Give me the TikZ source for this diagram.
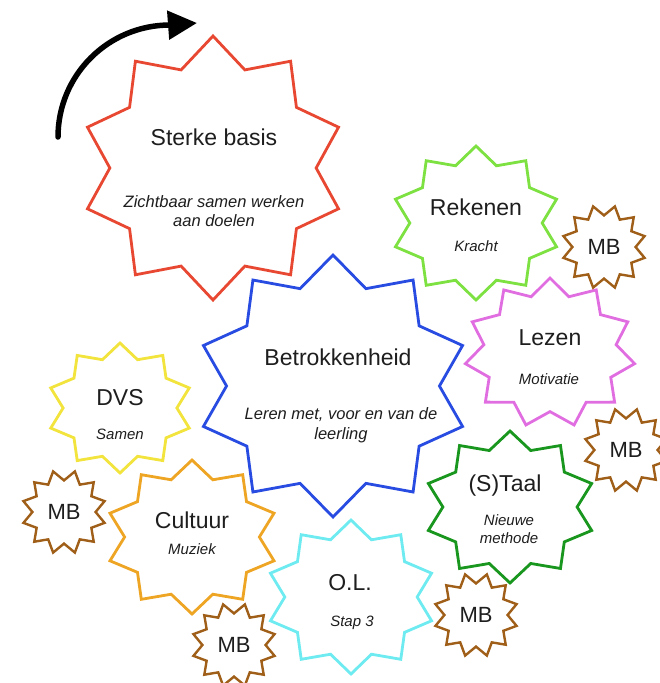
\documentclass[tikz,border=0pt]{standalone}
\usepackage{fontspec}
\setmainfont{Liberation Sans}
\usetikzlibrary{shapes.geometric,arrows.meta}
\definecolor{cred}{RGB}{232,72,50}
\definecolor{cblue}{RGB}{40,75,225}
\definecolor{clgreen}{RGB}{125,225,65}
\definecolor{cmag}{RGB}{225,110,225}
\definecolor{cyel}{RGB}{242,228,60}
\definecolor{corange}{RGB}{238,165,35}
\definecolor{cdgreen}{RGB}{25,150,30}
\definecolor{ccyan}{RGB}{110,235,240}
\definecolor{cbrown}{RGB}{160,95,25}
\definecolor{txt}{RGB}{30,30,30}
\tikzset{
  gear/.style={star, star points=10, star point ratio=1.28, draw, fill=white,
    line width=2.8pt, inner sep=0pt, line join=miter},
  mbgear/.style={star, star points=12, star point ratio=1.33, shape border rotate=15,
    draw=cbrown, fill=white, line width=2.4pt, inner sep=0pt, minimum size=84pt},
  title/.style={text=txt, font=\fontsize{23}{27}\selectfont},
  mbtext/.style={text=txt, font=\fontsize{22}{26}\selectfont},
  sub/.style={text=txt, align=center, font=\itshape\fontsize{15}{18}\selectfont},
  bigsub/.style={text=txt, align=center, font=\itshape\fontsize{16.5}{19.5}\selectfont}
}
\begin{document}
\begin{tikzpicture}[x=1pt,y=-1pt]
\useasboundingbox (0,0) rectangle (659,683);

% arrow
\coordinate (a0) at (58,137);
\coordinate (tip) at (197,23);
\draw[line width=5.5pt, line cap=round, -{Triangle[length=29pt,width=28pt]}]
  (a0) arc[start angle=180, end angle=270, radius=112] -- (tip);

% big stars
\begin{scope}[shift={(213,168)}]
  \node[gear, draw=cred, minimum size=264pt] (red) at (0,0) {};
\end{scope}
\begin{scope}[shift={(333,386)}]
  \node[gear, draw=cblue, minimum size=262pt, xscale=1.04] (blue) at (0,0) {};
\end{scope}
\begin{scope}[shift={(476,223)}]
  \node[gear, draw=clgreen, minimum size=154pt, xscale=1.1] (green) at (0,0) {};
\end{scope}
\begin{scope}[shift={(550,353)}]
  \node[gear, star points=11, draw=cmag, minimum size=150pt, xscale=1.14] (mag) at (0,0) {};
\end{scope}
\begin{scope}[shift={(120,408)}]
  \node[gear, draw=cyel, minimum size=130pt, xscale=1.12] (yel) at (0,0) {};
\end{scope}
\begin{scope}[shift={(192,537)}]
  \node[gear, draw=corange, minimum size=154pt, xscale=1.12] (org) at (0,0) {};
\end{scope}
\begin{scope}[shift={(510,507)}]
  \node[gear, draw=cdgreen, minimum size=152pt, xscale=1.13] (dgr) at (0,0) {};
\end{scope}
\begin{scope}[shift={(351,597)}]
  \node[gear, draw=ccyan, minimum size=154pt, xscale=1.1] (cyan) at (0,0) {};
\end{scope}

% MB stars
\node[mbgear] (mb1) at (604,247) {};
\node[mbgear] (mb2) at (626,450) {};
\node[mbgear] (mb3) at (64,512) {};
\node[mbgear] (mb4) at (234,645) {};
\node[mbgear] (mb5) at (476,615) {};
\node[mbtext] (mb1t) at (mb1) {MB};
\node[mbtext] (mb2t) at (mb2) {MB};
\node[mbtext] (mb3t) at (mb3) {MB};
\node[mbtext] (mb4t) at (mb4) {MB};
\node[mbtext] (mb5t) at (mb5) {MB};

% texts
\node[title] (t1) at (214,137) {Sterke basis};
\node[bigsub] (s1) at (214,211) {Zichtbaar samen werken\\aan doelen};
\node[title] (t2) at (338,357) {Betrokkenheid};
\node[bigsub] (s2) at (341,425) {Leren met, voor en van de\\leerling};
\node[title] (t3) at (476,207) {Rekenen};
\node[sub] (s3) at (476,246) {Kracht};
\node[title] (t4) at (550,338) {Lezen};
\node[sub] (s4) at (549,379) {Motivatie};
\node[title] (t5) at (120,398) {DVS};
\node[sub] (s5) at (120,434) {Samen};
\node[title] (t6) at (192,520) {Cultuur};
\node[sub] (s6) at (192,549) {Muziek};
\node[title] (t7) at (505,486) {(S)Taal};
\node[sub] (s7) at (509,529) {Nieuwe\\methode};
\node[title] (t8) at (350,583) {O.L.};
\node[sub] (s8) at (352,623) {Stap 3};
\end{tikzpicture}
\end{document}
